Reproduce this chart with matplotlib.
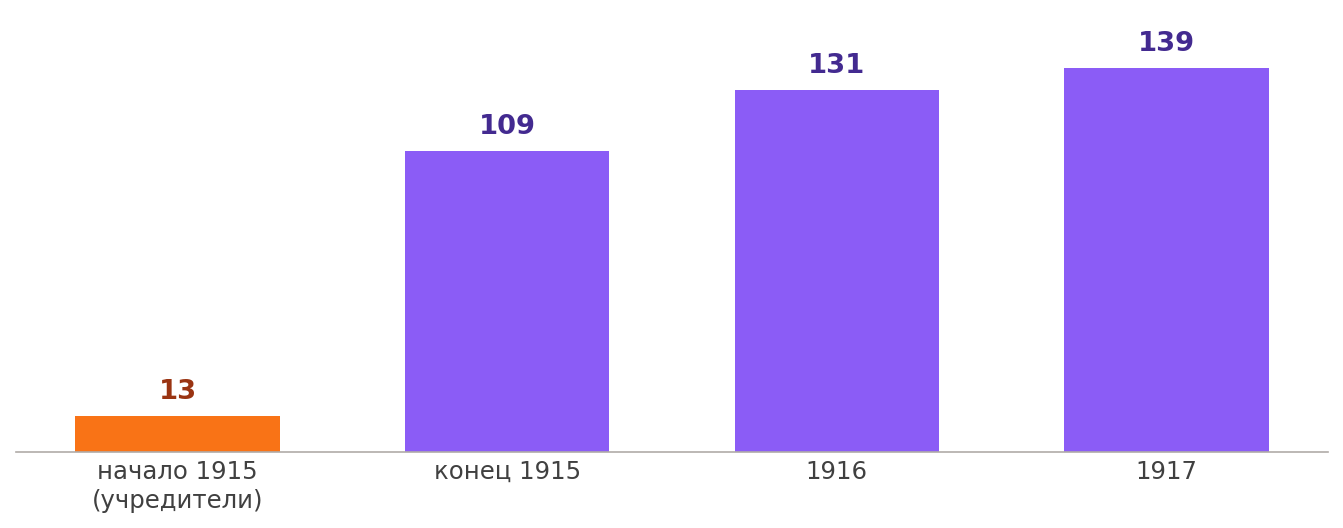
import matplotlib
matplotlib.use("Agg")
import matplotlib.pyplot as plt

categories = ["начало 1915\n(учредители)", "конец 1915", "1916", "1917"]
values = [13, 109, 131, 139]
bar_colors = ["#F97316", "#8B5CF6", "#8B5CF6", "#8B5CF6"]
label_colors = ["#9A3412", "#432A90", "#432A90", "#432A90"]

fig = plt.figure(figsize=(13.43, 5.28), dpi=100)
ax = fig.add_axes([16/1343, (528-452)/528, (1328-16)/1343, 452/528])
x = range(len(categories))
bars = ax.bar(x, values, width=0.62, color=bar_colors)
for xi, v, c in zip(x, values, label_colors):
    ax.annotate(str(v), (xi, v), xytext=(0, 8), textcoords="offset points",
                ha="center", va="bottom", fontsize=19.7, fontweight="bold", color=c)
ax.set_xlim(-0.49, 3.49)
ax.set_ylim(0, 163.6)
ax.set_xticks(list(x))
ax.set_xticklabels(categories, fontsize=17.6, color="#404040", linespacing=1.27)
ax.tick_params(axis="x", length=0, pad=5.5)
ax.set_yticks([])
for s in ["top", "right", "left"]:
    ax.spines[s].set_visible(False)
ax.spines["bottom"].set_color("#B0ABA8")
ax.spines["bottom"].set_linewidth(1.2)
fig.savefig("out.png", dpi=100)
